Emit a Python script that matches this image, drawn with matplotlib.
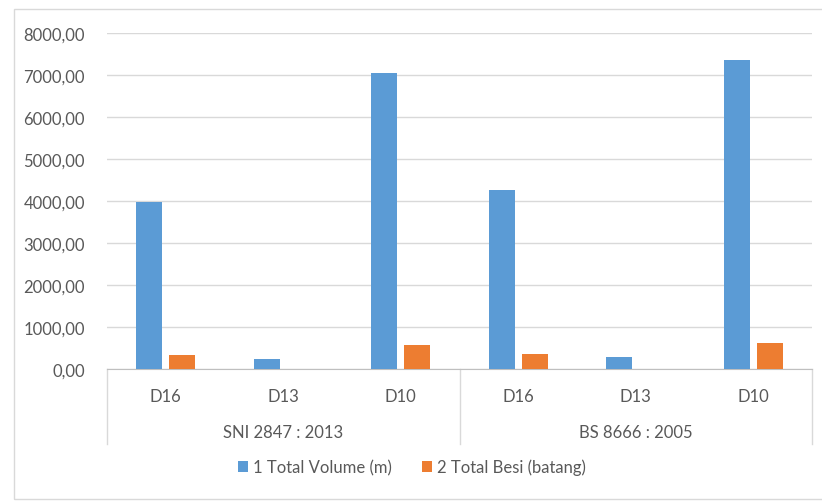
import numpy as np
import matplotlib.pyplot as plt
from matplotlib.patches import Rectangle
from matplotlib.transforms import blended_transform_factory

# rebar totals per diameter, for each design code
groups = ['SNI 2847 : 2013', 'BS 8666 : 2005']
diameters = ['D16', 'D13', 'D10']
total_volume = [3970, 240, 7040, 4260, 280, 7350]
total_besi = [335, 0, 580, 350, 0, 615]
series_names = ['1 Total Volume (m)', '2 Total Besi (batang)']

BLUE = '#5B9BD5'
ORANGE = '#ED7D31'
TEXT = '#595959'
GRID = '#D9D9D9'

plt.rcParams['font.family'] = ['Lato', 'DejaVu Sans']

fig = plt.figure(figsize=(8.22, 5.02), dpi=100)
# chart area frame, runs off the right edge
fig.patches.append(Rectangle((14 / 822, 2 / 502), 820 / 822, 490 / 502, transform=fig.transFigure,
	fill=False, edgecolor='#D9D9D9', linewidth=1.0))

ax = fig.add_axes([107 / 822, 132 / 502, 705 / 822, 336 / 502])

labels = diameters * len(groups)
x = np.arange(len(labels))
width = 0.22
ax.bar(x - 0.14, total_volume, width, color=BLUE, label=series_names[0], zorder=3)
ax.bar(x + 0.14, total_besi, width, color=ORANGE, label=series_names[1], zorder=3)

ax.set_xlim(-0.5, len(labels) - 0.5)
ax.set_ylim(0, 8000)
ax.set_yticks(np.arange(0, 8001, 1000))
ax.set_yticklabels([f'{v:.2f}'.replace('.', ',') for v in np.arange(0, 8001, 1000)])
ax.yaxis.grid(True, color=GRID, linewidth=1.0, zorder=0)
ax.tick_params(axis='y', length=0, pad=16, labelsize=12, labelcolor=TEXT)

ax.set_xticks(x)
ax.set_xticklabels(labels)
ax.tick_params(axis='x', length=0, pad=14, labelsize=12, labelcolor=TEXT)

for side in ['left', 'right', 'top']:
	ax.spines[side].set_visible(False)
ax.spines['bottom'].set_color('#BFBFBF')

# category box below the axis: separators and group names
trans = blended_transform_factory(ax.transData, ax.transAxes)
box_depth = -75 / 336
for xs in [-0.5, 2.5, 5.5]:
	ax.plot([xs, xs], [0, box_depth], transform=trans, color='#D9D9D9', linewidth=1.0, clip_on=False)
for i, g in enumerate(groups):
	ax.text(i * 3 + 1, -63 / 336, g, transform=trans, ha='center', va='center',
		fontsize=12, color=TEXT)

leg = fig.legend(loc='center', bbox_to_anchor=(412 / 822, 1 - 468 / 502), ncol=2, frameon=False,
	fontsize=12, handlelength=0.6, handleheight=0.6, handletextpad=0.3, columnspacing=1.8)
for t in leg.get_texts():
	t.set_color(TEXT)

fig.savefig('out.png', dpi=100)
